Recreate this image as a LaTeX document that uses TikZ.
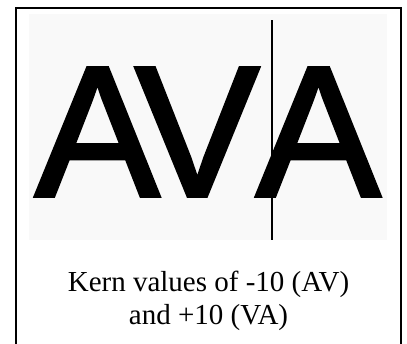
\documentclass[tikz,border=0pt]{standalone}
\usepackage{fontspec}
\setmainfont{Liberation Serif}
\newfontfamily\glyphfont[FakeBold=2]{Liberation Sans}
\usepackage{tikz}
\usetikzlibrary{positioning}

\begin{document}
\begin{tikzpicture}[
                x=1pt, y=-1pt,
                panel/.style={fill=black!2.5, draw=none, inner sep=0pt,
                              minimum width=358pt, minimum height=226pt},
                glyph/.style={font=\glyphfont\fontsize{186}{186}\selectfont,
                              inner sep=0pt, anchor=base west},
                caption/.style={font=\fontsize{29}{32.5}\selectfont,
                                align=center, inner sep=0pt},
                frame/.style={line width=2pt, line cap=rect},
                marker/.style={line width=1.1pt}
            ]
                \useasboundingbox (0,0) rectangle (407,343);
                \node[panel] (panel) at (208,127) {};
                \node[glyph] (a1) at (35,196) {A};
                \node[glyph] (v) at (135,196) {V};
                \node[glyph] (a2) at (256,196) {A};
                \coordinate (marktop) at (272,20);
                \coordinate (markbot) at (272,240);
                \draw[marker] (marktop) -- (markbot);
                \node[caption, anchor=base] (note) at (208.5,324)
                    {Kern values of -10 (AV)\\ and +10 (VA)};
                \draw[frame] (16,345) -- (16,8) -- (401,8) -- (401,345);
            \end{tikzpicture}
\end{document}
